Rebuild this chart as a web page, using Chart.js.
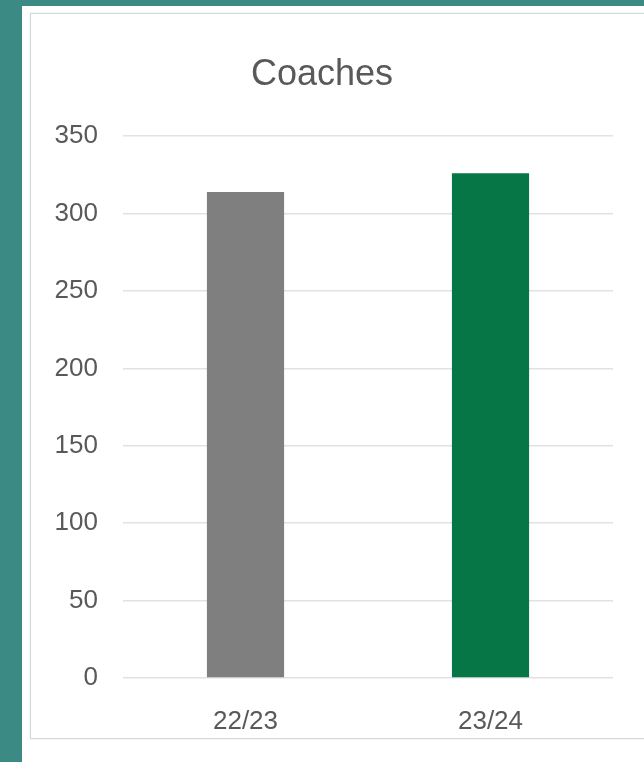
<!DOCTYPE html>
<html>
<head>
<meta charset="utf-8">
<script src="https://cdn.jsdelivr.net/npm/chart.js@4/dist/chart.umd.min.js"></script>
<style>
  body { margin: 0; background: #3b8b84; width: 644px; height: 762px; overflow: hidden; }
  #sheet { position: absolute; left: 22px; top: 6px; width: 640px; height: 770px; background: #fff; }
  #panel { position: absolute; left: 30px; top: 13px; width: 640px; height: 724px;
           border: 1px solid #d6d6d6; box-shadow: 0 0 2px #e6e6e6; background: #fff; }
  #board { position: absolute; left: 0; top: 0; }
</style>
</head>
<body>
<div id="sheet"></div>
<div id="panel"><canvas id="board" width="610" height="722"></canvas></div>
<script>
let seasons = ["22/23", "23/24"];
let coaches = [314, 326];
let barColours = ["#7f7f7f", "#077646"];
let yTicks = [0, 50, 100, 150, 200, 250, 300, 350];

let textColour = "#595959";
let sans = "'Liberation Sans', Arial, sans-serif";

let canv = document.getElementById("board");
let chart = new Chart(canv, {
  type: "bar",
  data: {
    labels: seasons,
    datasets: [
      {
        label: "Coaches",
        data: coaches,
        backgroundColor: barColours,
        borderWidth: 0,
        barPercentage: 0.315,
        categoryPercentage: 1
      }
    ]
  },
  options: {
    responsive: false,
    animation: false,
    layout: { padding: { left: 0, right: 28, top: 0, bottom: 0 } },
    plugins: {
      legend: { display: false },
      tooltip: { enabled: false },
      title: {
        display: true,
        text: "Coaches",
        color: textColour,
        font: { family: sans, size: 36, weight: "normal" },
        padding: { top: 39, bottom: 40 }
      }
    },
    scales: {
      x: {
        grid: { display: false },
        border: { display: false },
        ticks: { color: textColour, padding: 20, font: { family: sans, size: 26 } },
        afterFit: function (scale) { scale.height = 58; }
      },
      y: {
        min: 0,
        max: 350,
        afterBuildTicks: function (scale) { scale.ticks = yTicks.map(v => ({ value: v })); },
        grid: { color: "#e2e2e2", lineWidth: 1.5, drawTicks: false },
        border: { display: false },
        ticks: { color: textColour, padding: 25, font: { family: sans, size: 26 } },
        afterFit: function (scale) { scale.width = 92; }
      }
    }
  }
});
</script>
</body>
</html>
